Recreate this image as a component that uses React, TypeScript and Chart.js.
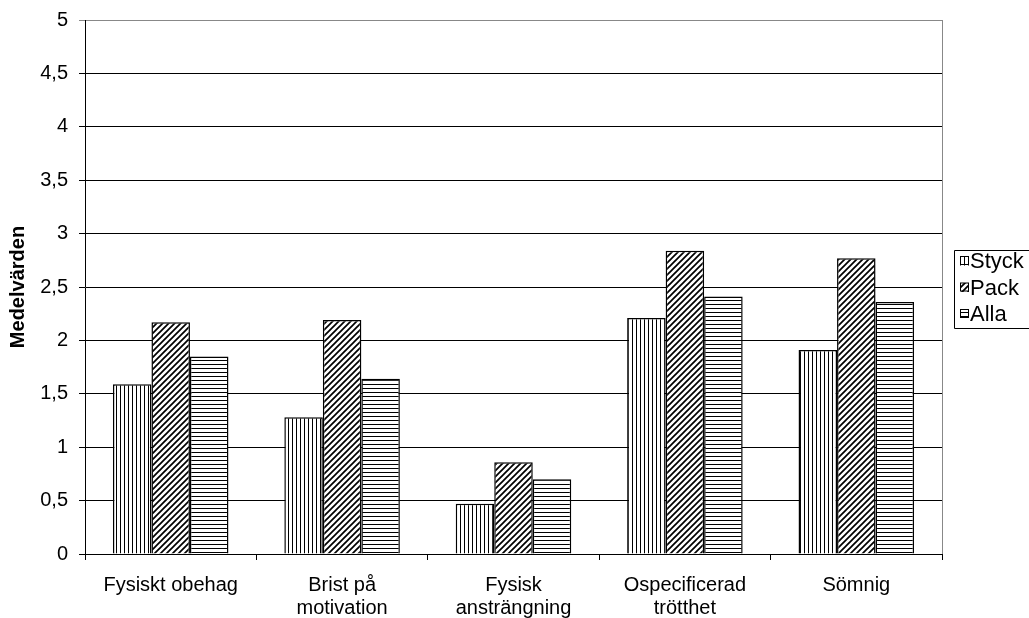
import React, { useEffect, useRef } from "react";
import { Chart, registerables } from "chart.js";

Chart.register(...registerables);

// Categories (multi-line labels as arrays)
const categories: (string | string[])[] = [
  "Fysiskt obehag",
  ["Brist på", "motivation"],
  ["Fysisk", "ansträngning"],
  ["Ospecificerad", "trötthet"],
  "Sömnig",
];

const seriesNames = ["Styck", "Pack", "Alla"];
const styckValues = [1.59, 1.28, 0.47, 2.21, 1.91];
const packValues = [2.17, 2.19, 0.86, 2.84, 2.77];
const allaValues = [1.85, 1.64, 0.7, 2.41, 2.36];

const yMin = 0;
const yMax = 5;
const yStep = 0.5;
const yTitle = "Medelvärden";

const FONT = "'Liberation Sans', Arial, Helvetica, sans-serif";

type PatternKind = "vertical" | "diagonal" | "horizontal";
const patternKinds: PatternKind[] = ["vertical", "diagonal", "horizontal"];

function makePattern(kind: PatternKind): CanvasPattern | string {
  const s = kind === "diagonal" ? 6 : 4;
  const c = document.createElement("canvas");
  c.width = s;
  c.height = s;
  const g = c.getContext("2d");
  if (!g) return "#888";
  g.fillStyle = "#fff";
  g.fillRect(0, 0, s, s);
  g.fillStyle = "#000";
  g.strokeStyle = "#000";
  if (kind === "vertical") {
    g.fillRect(0, 0, 1, s);
  } else if (kind === "horizontal") {
    g.fillRect(0, 0, s, 1);
  } else {
    g.lineWidth = 1.7;
    g.beginPath();
    g.moveTo(0, s);
    g.lineTo(s, 0);
    g.moveTo(-1, 1);
    g.lineTo(1, -1);
    g.moveTo(s - 1, s + 1);
    g.lineTo(s + 1, s - 1);
    g.stroke();
  }
  const p = g.createPattern(c, "repeat");
  return p || "#888";
}

// Plot frame (gray right edge) and boxed legend at the right
const framePlugin = {
  id: "frameAndLegend",
  afterDraw(chart: any) {
    const { ctx, chartArea } = chart;
    ctx.save();
    ctx.strokeStyle = "#888";
    ctx.lineWidth = 1;
    ctx.beginPath();
    ctx.moveTo(Math.round(chartArea.right) + 0.5, chartArea.top);
    ctx.lineTo(Math.round(chartArea.right) + 0.5, chartArea.bottom);
    ctx.stroke();

    // legend box
    const bx = 954.5;
    const by = 250.5;
    const bh = 78;
    ctx.strokeStyle = "#000";
    ctx.beginPath();
    ctx.moveTo(1040, by);
    ctx.lineTo(bx, by);
    ctx.lineTo(bx, by + bh);
    ctx.lineTo(1040, by + bh);
    ctx.stroke();

    ctx.font = `22px ${FONT}`;
    ctx.textBaseline = "middle";
    ctx.textAlign = "left";
    chart.data.datasets.forEach((ds: any, i: number) => {
      const cy = 261 + i * 26.5;
      ctx.fillStyle = ds.backgroundColor;
      ctx.fillRect(960, cy - 4.5, 9, 9);
      ctx.strokeStyle = "#000";
      ctx.lineWidth = 1;
      ctx.strokeRect(960.5, cy - 4.5, 8, 8);
      ctx.fillStyle = "#000";
      ctx.fillText(ds.label, 970, cy + 1);
    });
    ctx.restore();
  },
};

export default function App() {
  const canvasRef = useRef<HTMLCanvasElement | null>(null);

  useEffect(() => {
    const canvas = canvasRef.current;
    if (!canvas) return;
    const values = [styckValues, packValues, allaValues];
    const chart = new Chart(canvas, {
      type: "bar",
      data: {
        labels: categories,
        datasets: seriesNames.map((name, i) => ({
          label: name,
          data: values[i],
          backgroundColor: makePattern(patternKinds[i]) as any,
          borderColor: "#000",
          borderWidth: 1.5,
          categoryPercentage: 0.674,
          barPercentage: 1,
        })),
      },
      options: {
        responsive: false,
        animation: false,
        events: [],
        layout: { padding: { top: 20, right: 87, left: 0, bottom: 0 } },
        plugins: {
          legend: { display: false },
          tooltip: { enabled: false },
        },
        scales: {
          x: {
            grid: {
              offset: true,
              drawOnChartArea: false,
              drawTicks: true,
              tickLength: 6,
              color: "#000",
            },
            border: { color: "#000", width: 1 },
            ticks: {
              color: "#000",
              font: { family: FONT, size: 20, lineHeight: 1.15 },
              padding: 14,
              maxRotation: 0,
              autoSkip: false,
            },
            afterFit: (s: any) => {
              s.height = 64;
              s.paddingLeft = 0;
              s.paddingRight = 0;
            },
          },
          y: {
            min: yMin,
            max: yMax,
            ticks: {
              stepSize: yStep,
              color: "#000",
              font: { family: FONT, size: 20 },
              padding: 11,
              callback: (v: any) => String(v).replace(".", ","),
            },
            grid: {
              color: (c: any) => (c.tick && c.tick.value === yMax ? "#888" : "#000"),
              tickLength: 6,
              lineWidth: 1,
            },
            border: { color: "#000", width: 1 },
            title: {
              display: true,
              text: yTitle,
              color: "#000",
              font: { family: FONT, size: 20, weight: "bold", lineHeight: 1.2 },
              padding: { top: 6, bottom: 0 },
            },
            afterFit: (s: any) => {
              s.width = 85;
              s.paddingTop = 0;
              s.paddingBottom = 0;
            },
          },
        },
      },
      plugins: [framePlugin],
    });
    return () => chart.destroy();
  }, []);

  return (
    <div style={{ position: "absolute", left: 0, top: 0, width: 1029, height: 618, background: "#fff" }}>
      <canvas ref={canvasRef} width={1029} height={618} style={{ width: 1029, height: 618, display: "block" }} />
    </div>
  );
}
